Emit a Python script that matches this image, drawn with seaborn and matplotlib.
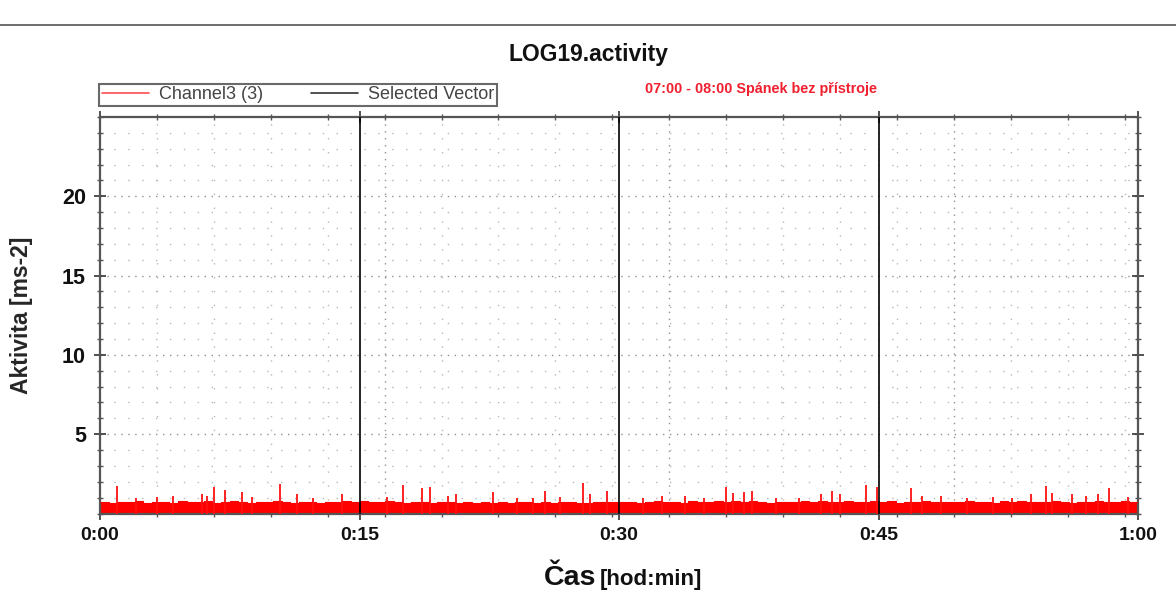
import numpy as np
import matplotlib
matplotlib.use("Agg")
import matplotlib.pyplot as plt
import seaborn as sns
from matplotlib.lines import Line2D
from matplotlib.ticker import MultipleLocator, FuncFormatter

# --- data (minutes from start of the 07:00-08:00 window) ---
# base activity level, one value per 30 s
base_level = [
    0.72, 0.68, 0.75, 0.70, 0.78, 0.66, 0.74, 0.71, 0.69, 0.77,
    0.73, 0.70, 0.76, 0.68, 0.72, 0.80, 0.71, 0.67, 0.74, 0.70,
    0.78, 0.72, 0.69, 0.75, 0.71, 0.66, 0.73, 0.70, 0.76, 0.72,
    0.80, 0.74, 0.70, 0.77, 0.73, 0.69, 0.75, 0.71, 0.68, 0.74,
    0.70, 0.67, 0.72, 0.69, 0.75, 0.66, 0.71, 0.68, 0.73, 0.70,
    0.65, 0.72, 0.68, 0.70, 0.74, 0.69, 0.66, 0.73, 0.71, 0.75,
    0.70, 0.74, 0.68, 0.72, 0.77, 0.70, 0.73, 0.69, 0.76, 0.71,
    0.74, 0.79, 0.72, 0.76, 0.70, 0.78, 0.73, 0.69, 0.75, 0.72,
    0.70, 0.76, 0.73, 0.79, 0.71, 0.74, 0.77, 0.70, 0.73, 0.80,
    0.72, 0.76, 0.69, 0.74, 0.71, 0.78, 0.73, 0.70, 0.75, 0.72,
    0.77, 0.71, 0.74, 0.69, 0.76, 0.72, 0.78, 0.70, 0.74, 0.71,
    0.76, 0.73, 0.69, 0.75, 0.72, 0.78, 0.70, 0.74, 0.77, 0.72,
]
# isolated peaks: time [min] and height [ms-2]
spike_min = [
    1.0, 2.1, 3.3, 4.2, 5.9, 6.2, 6.6, 7.2, 8.2, 8.8, 10.4, 11.4, 12.3, 14.0,
    16.6, 17.5, 18.6, 19.1, 20.1, 20.6, 22.7, 24.1, 25.0, 25.7, 26.6, 27.9,
    28.3, 29.3, 31.4, 32.5, 33.8, 34.9, 36.2, 36.6, 37.2, 37.7, 39.1, 40.4,
    41.7, 42.3, 42.8, 44.3, 44.9, 46.9, 47.5, 48.6, 50.1, 51.6, 52.7, 53.8,
    54.7, 55.0, 56.2, 57.0, 57.7, 58.3, 59.4,
]
spike_val = [
    1.73, 1.0, 1.06, 1.1, 1.2, 1.1, 1.69, 1.5, 1.35, 1.06, 1.85, 1.2, 1.0, 1.2,
    1.06, 1.79, 1.6, 1.7, 1.1, 1.2, 1.35, 0.98, 1.0, 1.4, 1.05, 1.94,
    1.2, 1.45, 1.0, 1.1, 1.1, 1.0, 1.69, 1.3, 1.35, 1.4, 1.0, 0.98,
    1.2, 1.4, 1.2, 1.8, 1.65, 1.6, 1.1, 1.1, 1.0, 1.06, 1.0, 1.2,
    1.73, 1.3, 1.2, 1.1, 1.2, 1.6, 1.06,
]
selected_vector_min = [15, 30, 45]
x_tick_min = [0, 15, 30, 45, 60]
y_ticks = [5, 10, 15, 20]

t = np.arange(len(base_level) + 1) * 0.5
base = np.array(base_level + [base_level[-1]])

sns.set_style("ticks")
plt.rcParams["font.family"] = ["Liberation Sans", "DejaVu Sans"]

fig = plt.figure(figsize=(11.76, 6.07), dpi=100)
W, H = 1176, 607
ax = fig.add_axes([100 / W, 1 - 513.5 / H, 1038 / W, (513.5 - 117) / H])

# grid (dotted, sparse dots like the original)
for yv in range(1, 25):
    heavy = yv % 5 == 0
    ax.axhline(yv, color="#909090" if heavy else "#b8b8b8",
               lw=1.0, ls=(0, (1, 4)) if heavy else (0, (1, 9)), zorder=0)
xg = 3.29
k = 1
while k * xg < 60:
    heavy = k % 5 == 0
    ax.axvline(k * xg, color="#909090" if heavy else "#b8b8b8",
               lw=1.0, ls=(0, (1, 4)) if heavy else (0, (1, 9)), zorder=0)
    k += 1

# signal
ax.fill_between(t, 0, base, step="post", color="#ff0000", lw=0, zorder=2)
sns.lineplot(x=t, y=base, drawstyle="steps-post", color="#ff0000", lw=0.8,
             ax=ax, zorder=3)
ax.vlines(spike_min, 0, spike_val, color="#ff1010", lw=1.3, zorder=3)

for xv in selected_vector_min:
    ax.axvline(xv, color="black", lw=1.2, zorder=4)

ax.set_xlim(0, 60)
ax.set_ylim(0, 25)
ax.set_xticks(x_tick_min)
ax.xaxis.set_major_formatter(FuncFormatter(lambda m, p: f"{int(m // 60)}:{int(m % 60):02d}"))
ax.xaxis.set_minor_locator(MultipleLocator(xg))
ax.set_yticks(y_ticks)
ax.yaxis.set_minor_locator(MultipleLocator(1))
ax.tick_params(axis="both", which="major", width=1.2, length=8,
               direction="inout", colors="#333333", labelcolor="#111111", pad=6)
ax.tick_params(axis="x", which="major", labelsize=14)
ax.tick_params(axis="y", which="major", labelsize=15.5)
ax.tick_params(axis="both", which="minor", width=1.0, length=5, direction="inout",
               colors="#555555")
ax.tick_params(top=True, right=True, which="both")
for lab in ax.get_xticklabels() + ax.get_yticklabels():
    lab.set_fontweight("bold")
for sp in ax.spines.values():
    sp.set_visible(True)
    sp.set_color("#555555")
    sp.set_linewidth(1.6)
ax.set_xlabel("")
ax.set_ylabel("Aktivita [ms-2]", fontsize=16.5, fontweight="bold", labelpad=21)

# x label: big "Čas" plus smaller unit
fig.text(596 / W, 1 - 578 / H, "Čas", ha="right", va="center",
         fontsize=20.5, fontweight="bold", color="#111111")
fig.text(600 / W, 1 - 579 / H, "[hod:min]", ha="left", va="center",
         fontsize=16, fontweight="bold", color="#111111")

# title and header line
fig.text(589 / W, 1 - 55 / H, "LOG19.activity", ha="center", va="center",
         fontsize=16.5, fontweight="bold", color="#111111")
fig.add_artist(Line2D([0, 1], [1 - 25 / H] * 2, color="#555555", lw=1.2))

# legend box
handles = [Line2D([], [], color="#ff4d4d", lw=1.2),
           Line2D([], [], color="#333333", lw=1.2)]
leg = fig.legend(handles, ["Channel3 (3)", "Selected Vector"], ncol=2,
                 loc="lower left", bbox_to_anchor=(99 / W, 1 - 106 / H),
                 bbox_transform=fig.transFigure, borderaxespad=0,
                 frameon=True, fancybox=False, fontsize=13,
                 handlelength=2.6, columnspacing=2.6, handletextpad=0.6,
                 borderpad=0.15)
leg.get_frame().set_edgecolor("#444444")
leg.get_frame().set_linewidth(1.5)
for txt in leg.get_texts():
    txt.set_color("#444444")

fig.text(645 / W, 1 - 89 / H, "07:00 - 08:00 Spánek bez přístroje", ha="left",
         va="center", fontsize=10.4, fontweight="bold", color="#f02030")

fig.savefig("out.png", dpi=100)
